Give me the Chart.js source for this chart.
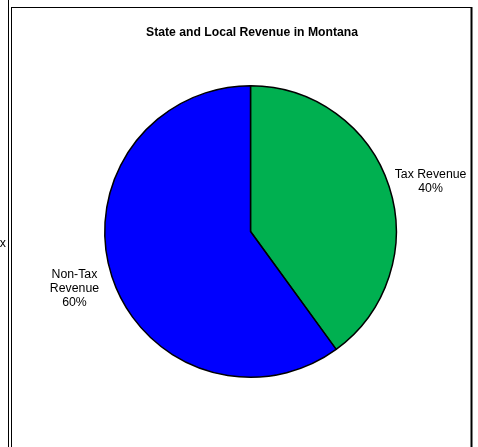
<!DOCTYPE html>
<html>
<head>
<meta charset="utf-8">
<title>State and Local Revenue in Montana</title>
<script src="https://cdn.jsdelivr.net/npm/chart.js@4.4.1/dist/chart.umd.min.js"></script>
<style>
  html, body { margin: 0; padding: 0; background: #fff; }
  #wrap { position: relative; width: 478px; height: 447px; }
</style>
</head>
<body>
<div id="wrap"><canvas id="myChart" width="478" height="447"></canvas></div>
<script>
// Revenue split
const categories = ["Tax Revenue", "Non-Tax Revenue"];
const labelLines = [["Tax Revenue"], ["Non-Tax", "Revenue"]];
const shares = [40, 60];
const sliceColors = ["#00b050", "#0000ff"];

const FONT = "'Liberation Sans', Arial, sans-serif";
// labels sit outside the pie, centred on the slice's middle angle
const LABEL_DISTANCE = 1.27;
const LINE_HEIGHT = 14;
// small per-label shift (px) so the text box clears the rim
const labelNudge = [[4, 7], [0, 0]];

// frame lines and the cut-off label of the neighbouring chart
const framePlugin = {
    id: "frame",
    afterDraw(chart) {
        const ctx = chart.ctx;
        const H = chart.height;
        ctx.save();
        ctx.strokeStyle = "#000";
        ctx.lineWidth = 1;
        ctx.beginPath();
        ctx.moveTo(8.5, 0); ctx.lineTo(8.5, H);
        ctx.moveTo(11.5, 7); ctx.lineTo(11.5, H);
        ctx.moveTo(11, 7.5); ctx.lineTo(472, 7.5);
        ctx.stroke();
        ctx.lineWidth = 2;
        ctx.beginPath();
        ctx.moveTo(471.5, 7); ctx.lineTo(471.5, H);
        ctx.stroke();

        ctx.fillStyle = "#000";
        ctx.font = "12.3px " + FONT;
        ctx.textAlign = "right";
        ctx.textBaseline = "middle";
        ctx.fillText("Tax", 6, 244);

        ctx.font = "bold 12.2px " + FONT;
        ctx.textAlign = "center";
        ctx.fillText("State and Local Revenue in Montana", 252, 33);
        ctx.restore();
    }
};

// category name + percentage outside each slice
const sliceLabelPlugin = {
    id: "sliceLabels",
    afterDatasetsDraw(chart) {
        const ctx = chart.ctx;
        const meta = chart.getDatasetMeta(0);
        const total = shares.reduce((a, b) => a + b, 0);
        ctx.save();
        ctx.fillStyle = "#000";
        ctx.font = "12.3px " + FONT;
        ctx.textAlign = "center";
        ctx.textBaseline = "middle";
        meta.data.forEach((arc, i) => {
            const mid = (arc.startAngle + arc.endAngle) / 2;
            const d = arc.outerRadius * LABEL_DISTANCE;
            const cx = arc.x + Math.cos(mid) * d + labelNudge[i][0];
            const cy = arc.y + Math.sin(mid) * d + labelNudge[i][1];
            const lines = labelLines[i].concat([Math.round(shares[i] / total * 100) + "%"]);
            const y0 = cy - (lines.length - 1) * LINE_HEIGHT / 2;
            lines.forEach((t, j) => ctx.fillText(t, cx, y0 + j * LINE_HEIGHT));
        });
        ctx.restore();
    }
};

function initChart() {
    const ctx = document.getElementById("myChart");
    return new Chart(ctx, {
        type: "pie",
        data: {
            labels: categories,
            datasets: [{
                data: shares,
                backgroundColor: sliceColors,
                borderColor: "#000",
                borderWidth: 1.5,
                borderAlign: "center"
            }]
        },
        options: {
            responsive: false,
            animation: false,
            layout: { padding: { left: 104, right: 81, top: 85, bottom: 69 } },
            plugins: {
                legend: { display: false },
                tooltip: { enabled: false },
                title: { display: false }
            }
        },
        plugins: [framePlugin, sliceLabelPlugin]
    });
}

initChart();
</script>
</body>
</html>
